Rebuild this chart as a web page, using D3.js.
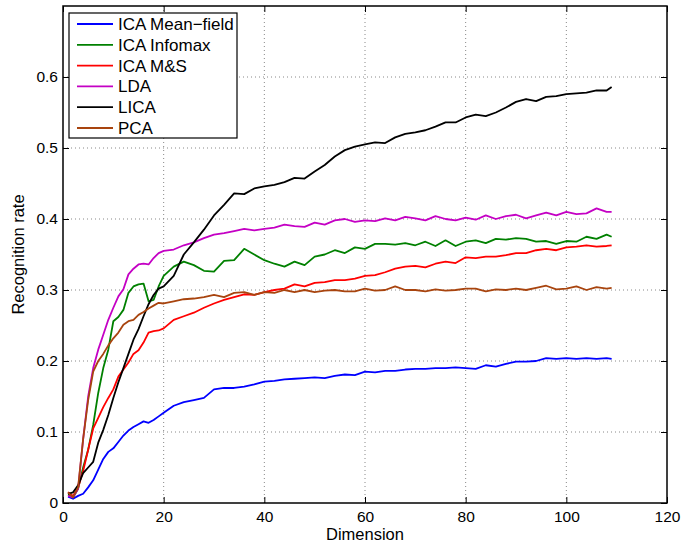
<!DOCTYPE html>
<html>
<head>
<meta charset="utf-8">
<script src="https://cdn.jsdelivr.net/npm/d3@7"></script>
<style>
  body { margin: 0; background: #fff; }
  text { font-family: "Liberation Sans", Arial, Helvetica, sans-serif; }
</style>
</head>
<body>
<div id="chart"></div>
<script>
// dimensions at which the rates were sampled
const dims = [1,2,3,4,5,6,7,8,9,10,11,12,13,14,15,16,17,18,19,20,
  22,24,26,28,30,32,34,36,38,40,42,44,46,48,50,52,54,56,58,60,
  62,64,66,68,70,72,74,76,78,80,82,84,86,88,90,92,94,96,98,100,
  102,104,106,108,109];

const meanField = [0.009,0.006,0.010,0.013,0.022,0.032,0.047,0.062,0.072,0.077,0.086,0.095,0.102,0.107,0.111,0.115,0.113,0.117,0.122,0.127,
  0.137,0.142,0.145,0.148,0.160,0.162,0.162,0.164,0.167,0.171,0.172,0.174,0.175,0.176,0.177,0.176,0.179,0.181,0.180,0.185,
  0.184,0.186,0.186,0.188,0.189,0.189,0.190,0.190,0.191,0.190,0.189,0.194,0.192,0.196,0.199,0.199,0.200,0.204,0.203,0.204,
  0.203,0.204,0.203,0.204,0.203];

const infomax = [0.012,0.008,0.020,0.050,0.075,0.110,0.155,0.190,0.216,0.256,0.262,0.272,0.296,0.305,0.308,0.309,0.284,0.286,0.305,0.320,
  0.333,0.340,0.335,0.327,0.326,0.341,0.342,0.358,0.350,0.342,0.337,0.333,0.340,0.335,0.347,0.350,0.356,0.352,0.360,0.358,
  0.365,0.365,0.364,0.366,0.363,0.368,0.362,0.370,0.362,0.368,0.370,0.366,0.372,0.371,0.373,0.372,0.368,0.369,0.365,0.369,
  0.368,0.375,0.372,0.378,0.375];

const ms = [0.015,0.010,0.022,0.045,0.075,0.105,0.120,0.135,0.148,0.160,0.178,0.188,0.198,0.210,0.215,0.226,0.240,0.242,0.243,0.246,
  0.258,0.263,0.268,0.275,0.281,0.286,0.290,0.294,0.293,0.297,0.300,0.302,0.308,0.305,0.310,0.311,0.314,0.314,0.316,0.320,
  0.321,0.325,0.330,0.333,0.334,0.332,0.337,0.340,0.338,0.346,0.345,0.347,0.347,0.349,0.352,0.352,0.356,0.358,0.356,0.360,
  0.361,0.363,0.361,0.362,0.363];

const lda = [0.010,0.008,0.020,0.090,0.150,0.190,0.216,0.237,0.258,0.275,0.291,0.301,0.322,0.330,0.336,0.337,0.336,0.345,0.352,0.355,
  0.357,0.363,0.367,0.373,0.378,0.380,0.383,0.386,0.384,0.386,0.388,0.392,0.390,0.389,0.395,0.392,0.398,0.400,0.396,0.398,
  0.397,0.401,0.398,0.403,0.401,0.398,0.404,0.400,0.398,0.402,0.399,0.405,0.400,0.404,0.406,0.401,0.405,0.409,0.405,0.410,
  0.407,0.408,0.415,0.410,0.410];

const lica = [0.013,0.015,0.025,0.042,0.050,0.058,0.085,0.103,0.124,0.148,0.170,0.190,0.210,0.230,0.245,0.263,0.280,0.293,0.302,0.305,
  0.320,0.350,0.367,0.385,0.405,0.420,0.436,0.435,0.443,0.446,0.448,0.452,0.458,0.457,0.467,0.476,0.488,0.497,0.502,0.505,
  0.508,0.507,0.515,0.520,0.522,0.525,0.530,0.536,0.536,0.543,0.547,0.545,0.550,0.557,0.565,0.569,0.566,0.572,0.573,0.576,
  0.577,0.578,0.581,0.581,0.586];

const pca = [0.015,0.008,0.022,0.090,0.145,0.185,0.200,0.210,0.222,0.232,0.240,0.251,0.256,0.258,0.265,0.269,0.274,0.278,0.282,0.281,
  0.284,0.287,0.288,0.290,0.293,0.290,0.296,0.297,0.293,0.297,0.296,0.300,0.297,0.300,0.297,0.299,0.300,0.298,0.298,0.302,
  0.299,0.300,0.305,0.300,0.300,0.298,0.301,0.299,0.300,0.302,0.302,0.298,0.301,0.300,0.302,0.300,0.303,0.306,0.301,0.302,
  0.305,0.300,0.304,0.302,0.303];

const names = ["ICA Mean\u2212field", "ICA Infomax", "ICA M&S", "LDA", "LICA", "PCA"];
const colors = ["#0000ff", "#008000", "#ff0000", "#c400c4", "#000000", "#a8440e"];
const seriesValues = [meanField, infomax, ms, lda, lica, pca];

const xTicks = [0, 20, 40, 60, 80, 100, 120];
const yTicks = [0, 0.1, 0.2, 0.3, 0.4, 0.5, 0.6];

const width = 684, height = 549;
const margin = {left: 63, right: 17, top: 6, bottom: 46};

const svg = d3.select("#chart").append("svg")
  .attr("width", width)
  .attr("height", height);

const x = d3.scaleLinear().domain([0, 120]).range([margin.left, width - margin.right]);
const y = d3.scaleLinear().domain([0, 0.7]).range([height - margin.bottom, margin.top]);

// dotted grid
svg.append("g").selectAll("line").data(xTicks.slice(1, -1)).enter().append("line")
  .attr("x1", d => x(d)).attr("x2", d => x(d))
  .attr("y1", y(0)).attr("y2", y(0.7))
  .attr("stroke", "#888").attr("stroke-width", 1).attr("stroke-dasharray", "1,3");
svg.append("g").selectAll("line").data(yTicks.slice(1)).enter().append("line")
  .attr("x1", x(0)).attr("x2", x(120))
  .attr("y1", d => y(d)).attr("y2", d => y(d))
  .attr("stroke", "#888").attr("stroke-width", 1).attr("stroke-dasharray", "1,3");

// axes with inward ticks on all four sides
const tl = 6;
svg.append("g").attr("transform", "translate(0," + y(0) + ")")
  .call(d3.axisBottom(x).tickValues(xTicks).tickSizeInner(-tl).tickSizeOuter(0).tickPadding(8).tickFormat(d3.format("d")));
svg.append("g").attr("transform", "translate(0," + y(0.7) + ")")
  .call(d3.axisTop(x).tickValues(xTicks).tickSizeInner(-tl).tickSizeOuter(0).tickFormat(""));
svg.append("g").attr("transform", "translate(" + x(0) + ",0)")
  .call(d3.axisLeft(y).tickValues(yTicks).tickSizeInner(-tl).tickSizeOuter(0).tickPadding(5)
    .tickFormat(d => d === 0 ? "0" : d3.format(".1f")(d)));
svg.append("g").attr("transform", "translate(" + x(120) + ",0)")
  .call(d3.axisRight(y).tickValues(yTicks).tickSizeInner(-tl).tickSizeOuter(0).tickFormat(""));

svg.selectAll(".domain").remove();
svg.selectAll(".tick line").attr("stroke", "#000").attr("stroke-width", 1);
svg.selectAll(".tick text").attr("fill", "#000").style("font-size", "15.5px");

// box
svg.append("rect")
  .attr("x", x(0)).attr("y", y(0.7))
  .attr("width", x(120) - x(0)).attr("height", y(0) - y(0.7))
  .attr("fill", "none").attr("stroke", "#000").attr("stroke-width", 1.5);

// lines
const line = d3.line()
  .x((d, i) => x(dims[i]))
  .y(d => y(d));

svg.append("g").selectAll("path").data(seriesValues).enter().append("path")
  .attr("d", line)
  .attr("fill", "none")
  .attr("stroke", (d, i) => colors[i])
  .attr("stroke-width", 1.8)
  .attr("stroke-linejoin", "round");

// axis labels
svg.append("text")
  .attr("x", (x(0) + x(120)) / 2).attr("y", 540)
  .attr("text-anchor", "middle").style("font-size", "16.5px")
  .text("Dimension");
svg.append("text")
  .attr("transform", "translate(24," + (y(0) + y(0.7)) / 2 + ") rotate(-90)")
  .attr("text-anchor", "middle").style("font-size", "16.5px")
  .text("Recognition rate");

// legend
const legend = svg.append("g");
legend.append("rect")
  .attr("x", 69).attr("y", 13).attr("width", 168).attr("height", 125)
  .attr("fill", "#fff").attr("stroke", "#000").attr("stroke-width", 1.2);
const rows = legend.selectAll("g.row").data(names).enter().append("g")
  .attr("transform", (d, i) => "translate(0," + (24 + i * 20.8) + ")");
rows.append("line")
  .attr("x1", 77).attr("x2", 113)
  .attr("stroke", (d, i) => colors[i]).attr("stroke-width", 1.8);
rows.append("text")
  .attr("x", 118).attr("y", 6)
  .style("font-size", "17px")
  .text(d => d);
</script>
</body>
</html>
